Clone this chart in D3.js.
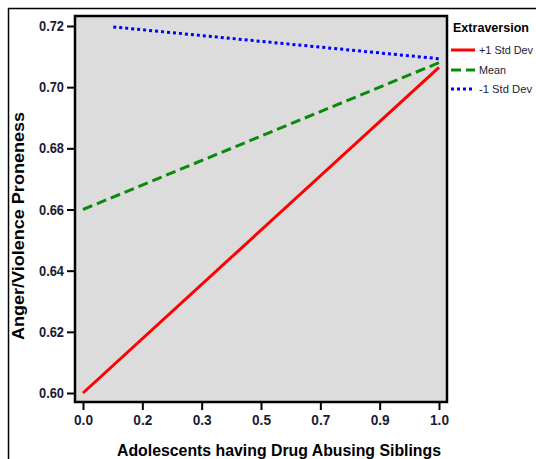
<!DOCTYPE html>
<html><head><meta charset="utf-8">
<script src="https://cdn.jsdelivr.net/npm/d3@7"></script>
<style>body{margin:0;background:#fff}svg{display:block}</style>
</head><body>
<svg id="c" width="536" height="459"></svg>
<script>
const seriesNames = ["+1 Std Dev", "Mean", "-1 Std Dev"];
const seriesColors = ["#ff0000", "#0a8a0a", "#0000ff"];
const seriesDash = [null, "10,5", "3,3"];
const xPlus = [0, 1];       const yPlus = [0.600, 0.7065];
const xMean = [0, 1];       const yMean = [0.660, 0.708];
const xMinus = [0.085, 1];  const yMinus = [0.7197, 0.7093];
const xTickValues = [0, 1/6, 2/6, 3/6, 4/6, 5/6, 1];
const xTickLabels = ["0.0", "0.2", "0.3", "0.5", "0.7", "0.9", "1.0"];
const yTickValues = [0.60, 0.62, 0.64, 0.66, 0.68, 0.70, 0.72];

const svg = d3.select("#c");
svg.append("rect").attr("x", 8.5).attr("y", 8.5).attr("width", 600).attr("height", 600)
  .attr("fill", "none").attr("stroke", "#000").attr("stroke-width", 1.5);

const L = 75, T = 16, R = 447, B = 402;
const x = d3.scaleLinear().domain([0, 1]).range([83, 439]);
const y = d3.scaleLinear().domain([0.60, 0.72]).range([393, 26]);

svg.append("rect").attr("x", L).attr("y", T).attr("width", R - L).attr("height", B - T)
  .attr("fill", "#dcdcdc").attr("stroke", "#000").attr("stroke-width", 2.5);

const fontTick = "Liberation Sans, Arial, sans-serif";
const yAxis = svg.append("g").attr("transform", `translate(${L - 1},0)`)
  .call(d3.axisLeft(y).tickValues(yTickValues).tickFormat(d3.format(".2f")).tickSizeOuter(0).tickSize(7).tickPadding(3));
yAxis.select(".domain").remove();
yAxis.selectAll("line").attr("stroke", "#000").attr("stroke-width", 2);
yAxis.selectAll("text").attr("font-family", fontTick).attr("font-size", 14.5).attr("font-weight", "bold")
  .attr("fill", "#1b1b33").attr("textLength", 25).attr("lengthAdjust", "spacingAndGlyphs");

const xAxis = svg.append("g").attr("transform", `translate(0,${B + 1})`)
  .call(d3.axisBottom(x).tickValues(xTickValues).tickFormat((d, i) => xTickLabels[i]).tickSizeOuter(0).tickSize(7).tickPadding(5));
xAxis.select(".domain").remove();
xAxis.selectAll("line").attr("stroke", "#000").attr("stroke-width", 2);
xAxis.selectAll("text").attr("font-family", fontTick).attr("font-size", 14.5).attr("font-weight", "bold")
  .attr("fill", "#1b1b33").attr("textLength", 19).attr("lengthAdjust", "spacingAndGlyphs");

const series = [[xPlus, yPlus], [xMean, yMean], [xMinus, yMinus]];
const line = d3.line().x(d => x(d[0])).y(d => y(d[1]));
series.forEach((s, i) => {
  const pts = s[0].map((v, j) => [v, s[1][j]]);
  svg.append("path").attr("d", line(pts)).attr("fill", "none")
    .attr("stroke", seriesColors[i]).attr("stroke-width", 3)
    .attr("stroke-dasharray", seriesDash[i]);
});

svg.append("text").attr("x", 279).attr("y", 456).attr("text-anchor", "middle")
  .attr("font-family", fontTick).attr("font-size", 16).attr("font-weight", "bold")
  .attr("textLength", 324).attr("lengthAdjust", "spacingAndGlyphs")
  .text("Adolescents having Drug Abusing Siblings");
svg.append("text").attr("transform", "translate(24,226) rotate(-90)").attr("text-anchor", "middle")
  .attr("font-family", fontTick).attr("font-size", 16).attr("font-weight", "bold")
  .attr("textLength", 228).attr("lengthAdjust", "spacingAndGlyphs")
  .text("Anger/Violence Proneness");

svg.append("text").attr("x", 453).attr("y", 32).attr("font-family", fontTick).attr("font-size", 13.5)
  .attr("font-weight", "bold").attr("textLength", 76).attr("lengthAdjust", "spacingAndGlyphs").text("Extraversion");
const legY = [50, 70, 89];
const legW = [54, 27, 53];
seriesNames.forEach((n, i) => {
  svg.append("line").attr("x1", 451).attr("x2", 475).attr("y1", legY[i]).attr("y2", legY[i])
    .attr("stroke", seriesColors[i]).attr("stroke-width", 3).attr("stroke-dasharray", seriesDash[i]);
  svg.append("text").attr("x", 479).attr("y", legY[i] + 4).attr("font-family", fontTick).attr("font-size", 11.5)
    .attr("fill", "#1b1b33").attr("textLength", legW[i]).attr("lengthAdjust", "spacingAndGlyphs").text(n);
});
</script>
</body></html>
